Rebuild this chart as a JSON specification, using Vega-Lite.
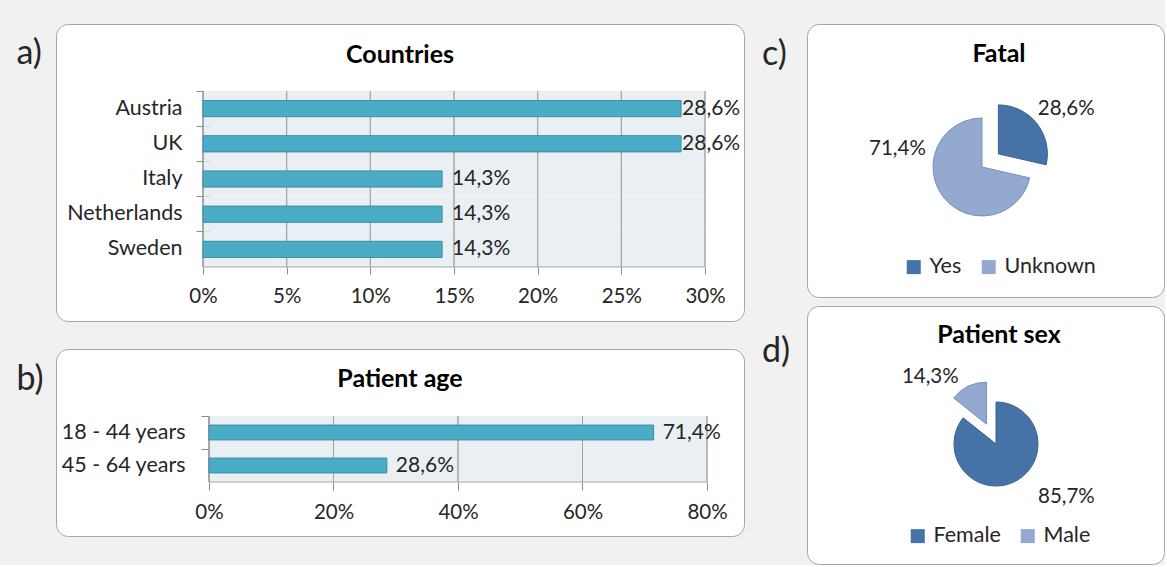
{
"$schema": "https://vega.github.io/schema/vega-lite/v6.json",
"background": "#f1f1f1",
"padding": {"left": 15, "top": 23, "right": 0, "bottom": 0},
"spacing": 16,
"resolve": {"scale": {"color": "independent", "stroke": "independent"}, "legend": {"color": "independent", "stroke": "independent"}},
"config": {
  "font": "Lato",
  "view": {"fill": "white", "stroke": "#a6a6a6", "strokeWidth": 1, "cornerRadius": 12},
  "style": {"view": {"fill": "white", "stroke": "#a6a6a6", "strokeWidth": 1, "cornerRadius": 12}},
  "locale": {"number": {"decimal": ",", "thousands": ".", "grouping": [3], "currency": ["", " €"]}},
  "axis": {"labelFont": "Lato", "titleFont": "Lato", "labelColor": "#262626"},
  "legend": {"labelFont": "Lato", "titleFont": "Lato"},
  "title": {"font": "Lato"},
  "text": {"font": "Lato"}
},
"hconcat": [
 {"spacing": 26, "vconcat": [
  {
   "width": 688, "height": 297,
   "title": {"text": "Countries", "offset": -64, "baseline": "alphabetic", "fontSize": 25, "fontWeight": "bold", "color": "#000000", "anchor": "middle"},
   "data": {"values": [
     {"country": "Austria", "value": 0.2857},
     {"country": "UK", "value": 0.2857},
     {"country": "Italy", "value": 0.1429},
     {"country": "Netherlands", "value": 0.1429},
     {"country": "Sweden", "value": 0.1429}
   ]},
   "encoding": {"y": {"field": "country", "type": "nominal",
      "scale": {"domain": ["Austria", "UK", "Italy", "Netherlands", "Sweden"], "paddingInner": 0, "paddingOuter": 0, "range": [67, 243]},
      "axis": {"title": "a)", "titleAngle": 0, "titleAlign": "left", "titleBaseline": "alphabetic", "titleX": -194, "titleY": 39, "titleFontSize": 34, "titleFontWeight": "normal", "titleColor": "#262626",
               "domain": false, "grid": false, "ticks": true, "tickSize": 14, "tickColor": "#8c8c8c", "bandPosition": 0, "offset": -154, "labelPadding": 14, "labelFontSize": 21.5, "labelColor": "#262626"}}},
   "layer": [
    {"mark": {"type": "bar", "color": "#e9eff3", "height": {"band": 1}},
     "encoding": {"x": {"datum": 0, "type": "quantitative", "scale": {"domain": [-0.08785, 0.32331], "nice": false, "zero": false}}, "x2": {"datum": 0.3}}},
    {"mark": {"type": "bar", "fill": "transparent", "stroke": "#a6a6a6", "strokeWidth": 1, "height": {"band": 1}},
     "encoding": {"x": {"datum": 0.05, "type": "quantitative", "scale": {"domain": [-0.08785, 0.32331], "nice": false, "zero": false}}, "x2": {"datum": 0.05}}},
    {"mark": {"type": "bar", "fill": "transparent", "stroke": "#a6a6a6", "strokeWidth": 1, "height": {"band": 1}},
     "encoding": {"x": {"datum": 0.1, "type": "quantitative", "scale": {"domain": [-0.08785, 0.32331], "nice": false, "zero": false}}, "x2": {"datum": 0.1}}},
    {"mark": {"type": "bar", "fill": "transparent", "stroke": "#a6a6a6", "strokeWidth": 1, "height": {"band": 1}},
     "encoding": {"x": {"datum": 0.15, "type": "quantitative", "scale": {"domain": [-0.08785, 0.32331], "nice": false, "zero": false}}, "x2": {"datum": 0.15}}},
    {"mark": {"type": "bar", "fill": "transparent", "stroke": "#a6a6a6", "strokeWidth": 1, "height": {"band": 1}},
     "encoding": {"x": {"datum": 0.2, "type": "quantitative", "scale": {"domain": [-0.08785, 0.32331], "nice": false, "zero": false}}, "x2": {"datum": 0.2}}},
    {"mark": {"type": "bar", "fill": "transparent", "stroke": "#a6a6a6", "strokeWidth": 1, "height": {"band": 1}},
     "encoding": {"x": {"datum": 0.25, "type": "quantitative", "scale": {"domain": [-0.08785, 0.32331], "nice": false, "zero": false}}, "x2": {"datum": 0.25}}},
    {"mark": {"type": "bar", "fill": "transparent", "stroke": "#a6a6a6", "strokeWidth": 1, "height": {"band": 1}},
     "encoding": {"x": {"datum": 0.3, "type": "quantitative", "scale": {"domain": [-0.08785, 0.32331], "nice": false, "zero": false}}, "x2": {"datum": 0.3}}},
    {"mark": {"type": "bar", "fill": "transparent", "stroke": "#8c8c8c", "strokeWidth": 1, "height": {"band": 1}},
     "encoding": {"x": {"datum": 0, "type": "quantitative", "scale": {"domain": [-0.08785, 0.32331], "nice": false, "zero": false}}, "x2": {"datum": 0}}},
    {"transform": [{"filter": "datum.country == 'Sweden'"}],
     "mark": {"type": "rule", "color": "#a6a6a6", "strokeWidth": 1},
     "encoding": {"x": {"datum": 0, "type": "quantitative", "scale": {"domain": [-0.08785, 0.32331], "nice": false, "zero": false}}, "x2": {"datum": 0.3},
                  "y": {"field": "country", "type": "nominal", "bandPosition": 1, "scale": {"domain": ["Austria", "UK", "Italy", "Netherlands", "Sweden"], "paddingInner": 0, "paddingOuter": 0, "range": [67, 243]}}}},
    {"mark": {"type": "bar", "fill": "#4bacc6", "stroke": "#3a8ea5", "strokeWidth": 1, "height": {"band": 0.46}},
     "encoding": {"x": {"field": "value", "type": "quantitative", "scale": {"domain": [-0.08785, 0.32331], "nice": false, "zero": false},
        "axis": {"values": [0, 0.05, 0.1, 0.15, 0.2, 0.25, 0.3], "format": ".0%", "domain": false, "grid": false, "tickSize": 7, "tickColor": "#8c8c8c", "offset": -54, "title": null, "labelFontSize": 20.5, "labelPadding": 12, "labelFlush": false, "labelColor": "#262626"}}}},
    {"transform": [{"filter": "datum.value > 0.2"}],
     "mark": {"type": "text", "align": "left", "baseline": "middle", "dx": 1, "fontSize": 21, "color": "#262626"},
     "encoding": {"x": {"field": "value", "type": "quantitative", "scale": {"domain": [-0.08785, 0.32331], "nice": false, "zero": false}},
                  "text": {"field": "value", "type": "quantitative", "format": ".1%"}}},
    {"transform": [{"filter": "datum.value <= 0.2"}],
     "mark": {"type": "text", "align": "left", "baseline": "middle", "dx": 10, "fontSize": 21, "color": "#262626"},
     "encoding": {"x": {"field": "value", "type": "quantitative", "scale": {"domain": [-0.08785, 0.32331], "nice": false, "zero": false}},
                  "text": {"field": "value", "type": "quantitative", "format": ".1%"}}}
   ]
  },
  {
   "width": 688, "height": 187,
   "title": {"text": "Patient age", "offset": -63, "baseline": "alphabetic", "fontSize": 25, "fontWeight": "bold", "color": "#000000", "anchor": "middle"},
   "data": {"values": [
     {"age": "18 - 44 years", "value": 0.7143},
     {"age": "45 - 64 years", "value": 0.2857}
   ]},
   "encoding": {"y": {"field": "age", "type": "nominal",
      "scale": {"domain": ["18 - 44 years", "45 - 64 years"], "paddingInner": 0, "paddingOuter": 0, "range": [67, 133]},
      "axis": {"title": "b)", "titleAngle": 0, "titleAlign": "left", "titleBaseline": "alphabetic", "titleX": -200, "titleY": 40, "titleFontSize": 34, "titleFontWeight": "normal", "titleColor": "#262626",
               "domain": false, "grid": false, "ticks": true, "tickSize": 15, "tickColor": "#8c8c8c", "bandPosition": 0, "offset": -160, "labelPadding": 16, "labelFontSize": 21.5, "labelColor": "#262626"}}},
   "layer": [
    {"mark": {"type": "bar", "color": "#e9eff3", "height": {"band": 1}},
     "encoding": {"x": {"datum": 0, "type": "quantitative", "scale": {"domain": [-0.24578, 0.85944], "nice": false, "zero": false}}, "x2": {"datum": 0.8}}},
    {"mark": {"type": "bar", "fill": "transparent", "stroke": "#a6a6a6", "strokeWidth": 1, "height": {"band": 1}},
     "encoding": {"x": {"datum": 0.2, "type": "quantitative", "scale": {"domain": [-0.24578, 0.85944], "nice": false, "zero": false}}, "x2": {"datum": 0.2}}},
    {"mark": {"type": "bar", "fill": "transparent", "stroke": "#a6a6a6", "strokeWidth": 1, "height": {"band": 1}},
     "encoding": {"x": {"datum": 0.4, "type": "quantitative", "scale": {"domain": [-0.24578, 0.85944], "nice": false, "zero": false}}, "x2": {"datum": 0.4}}},
    {"mark": {"type": "bar", "fill": "transparent", "stroke": "#a6a6a6", "strokeWidth": 1, "height": {"band": 1}},
     "encoding": {"x": {"datum": 0.6, "type": "quantitative", "scale": {"domain": [-0.24578, 0.85944], "nice": false, "zero": false}}, "x2": {"datum": 0.6}}},
    {"mark": {"type": "bar", "fill": "transparent", "stroke": "#a6a6a6", "strokeWidth": 1, "height": {"band": 1}},
     "encoding": {"x": {"datum": 0.8, "type": "quantitative", "scale": {"domain": [-0.24578, 0.85944], "nice": false, "zero": false}}, "x2": {"datum": 0.8}}},
    {"mark": {"type": "bar", "fill": "transparent", "stroke": "#8c8c8c", "strokeWidth": 1, "height": {"band": 1}},
     "encoding": {"x": {"datum": 0, "type": "quantitative", "scale": {"domain": [-0.24578, 0.85944], "nice": false, "zero": false}}, "x2": {"datum": 0}}},
    {"transform": [{"filter": "datum.age == '45 - 64 years'"}],
     "mark": {"type": "rule", "color": "#a6a6a6", "strokeWidth": 1},
     "encoding": {"x": {"datum": 0, "type": "quantitative", "scale": {"domain": [-0.24578, 0.85944], "nice": false, "zero": false}}, "x2": {"datum": 0.8},
                  "y": {"field": "age", "type": "nominal", "bandPosition": 1, "scale": {"domain": ["18 - 44 years", "45 - 64 years"], "paddingInner": 0, "paddingOuter": 0, "range": [67, 133]}}}},
    {"mark": {"type": "bar", "fill": "#4bacc6", "stroke": "#3a8ea5", "strokeWidth": 1, "height": {"band": 0.45}},
     "encoding": {"x": {"field": "value", "type": "quantitative", "scale": {"domain": [-0.24578, 0.85944], "nice": false, "zero": false},
        "axis": {"values": [0, 0.2, 0.4, 0.6, 0.8], "format": ".0%", "domain": false, "grid": false, "tickSize": 8, "tickColor": "#8c8c8c", "offset": -54, "title": null, "labelFontSize": 20.5, "labelPadding": 12, "labelFlush": false, "labelColor": "#262626"}}}},
    {"mark": {"type": "text", "align": "left", "baseline": "middle", "dx": 9, "fontSize": 21, "color": "#262626"},
     "encoding": {"x": {"field": "value", "type": "quantitative", "scale": {"domain": [-0.24578, 0.85944], "nice": false, "zero": false}},
                  "text": {"field": "value", "type": "quantitative", "format": ".1%"}}}
   ]
  }
 ]},
 {"spacing": 7,
  "resolve": {"scale": {"color": "independent", "stroke": "independent"}, "legend": {"color": "independent", "stroke": "independent"}},
  "vconcat": [
  {
   "width": 357, "height": 273,
   "title": {"text": "c)", "anchor": "start", "dx": -45, "offset": -75, "baseline": "alphabetic", "fontSize": 34, "fontWeight": "normal", "color": "#262626"},
   "data": {"values": [
     {"cat": "Yes", "value": 0.2857},
     {"cat": "Unknown", "value": 0.7143}
   ]},
   "encoding": {
     "theta": {"field": "value", "type": "quantitative", "stack": true},
     "order": {"field": "cat", "type": "nominal", "sort": "descending"},
     "detail": {"field": "cat", "type": "nominal"}
   },
   "layer": [
    {"mark": {"type": "arc", "radius": 49, "xOffset": -3.5, "yOffset": 6.5, "strokeWidth": 1},
     "encoding": {
       "color": {"field": "cat", "type": "nominal", "scale": {"domain": ["Yes", "Unknown"], "range": ["#4572a7", "#93a9cf"]},
         "legend": {"orient": "none", "legendX": 96, "legendY": 18, "direction": "horizontal", "title": "Fatal", "titleFontSize": 25, "titleFontWeight": "bold", "titleColor": "#000000", "titleAnchor": "middle", "titlePadding": 189, "symbolType": "square", "symbolSize": 196, "symbolStrokeWidth": 0, "labelFontSize": 21.5, "labelColor": "#262626", "labelOffset": 5, "columnPadding": 16}},
       "stroke": {"field": "cat", "type": "nominal", "scale": {"domain": ["Yes", "Unknown"], "range": ["#3a6190", "#7391c2"]}, "legend": null},
       "opacity": {"condition": {"test": "datum.cat == 'Yes'", "value": 0}, "value": 1}
     }},
    {"mark": {"type": "arc", "radius": 49, "xOffset": 12.9, "yOffset": -6.6, "strokeWidth": 1},
     "encoding": {
       "color": {"field": "cat", "type": "nominal", "scale": {"domain": ["Yes", "Unknown"], "range": ["#4572a7", "#93a9cf"]},
         "legend": {"orient": "none", "legendX": 96, "legendY": 18, "direction": "horizontal", "title": "Fatal", "titleFontSize": 25, "titleFontWeight": "bold", "titleColor": "#000000", "titleAnchor": "middle", "titlePadding": 189, "symbolType": "square", "symbolSize": 196, "symbolStrokeWidth": 0, "labelFontSize": 21.5, "labelColor": "#262626", "labelOffset": 5, "columnPadding": 16}},
       "stroke": {"field": "cat", "type": "nominal", "scale": {"domain": ["Yes", "Unknown"], "range": ["#3a6190", "#7391c2"]}, "legend": null},
       "opacity": {"condition": {"test": "datum.cat == 'Yes'", "value": 1}, "value": 0}
     }},
    {"mark": {"type": "text", "radius": 100, "xOffset": -3.5, "yOffset": 6.5, "dx": 6, "dy": 4, "fontSize": 20.5, "color": "#262626", "align": "center", "baseline": "middle"},
     "encoding": {"text": {"condition": {"test": "datum.cat == 'Yes'", "field": "value", "type": "quantitative", "format": ".1%"}, "value": ""}}},
    {"mark": {"type": "text", "radius": 80, "xOffset": -3.5, "yOffset": 6.5, "dx": -22, "dy": -68, "fontSize": 20.5, "color": "#262626", "align": "center", "baseline": "middle"},
     "encoding": {"text": {"condition": {"test": "datum.cat == 'Unknown'", "field": "value", "type": "quantitative", "format": ".1%"}, "value": ""}}}
   ]
  },
  {
   "width": 357, "height": 258,
   "title": {"text": "d)", "anchor": "start", "dx": -45, "offset": -90, "baseline": "alphabetic", "fontSize": 34, "fontWeight": "normal", "color": "#262626"},
   "data": {"values": [
     {"cat": "Female", "value": 0.8571},
     {"cat": "Male", "value": 0.1429}
   ]},
   "encoding": {
     "theta": {"field": "value", "type": "quantitative", "stack": true},
     "order": {"field": "cat", "type": "nominal", "sort": "ascending"},
     "detail": {"field": "cat", "type": "nominal"}
   },
   "layer": [
    {"mark": {"type": "arc", "radius": 42, "xOffset": 10.5, "yOffset": 9, "strokeWidth": 1},
     "encoding": {
       "color": {"field": "cat", "type": "nominal", "scale": {"domain": ["Female", "Male"], "range": ["#4572a7", "#93a9cf"]},
         "legend": {"orient": "none", "legendX": 100, "legendY": 17, "direction": "horizontal", "title": "Patient sex", "titleFontSize": 25, "titleFontWeight": "bold", "titleColor": "#000000", "titleAnchor": "middle", "titlePadding": 177, "symbolType": "square", "symbolSize": 196, "symbolStrokeWidth": 0, "labelFontSize": 21.5, "labelColor": "#262626", "labelOffset": 5, "columnPadding": 16}},
       "stroke": {"field": "cat", "type": "nominal", "scale": {"domain": ["Female", "Male"], "range": ["#3a6190", "#7391c2"]}, "legend": null},
       "opacity": {"condition": {"test": "datum.cat == 'Male'", "value": 0}, "value": 1}
     }},
    {"mark": {"type": "arc", "radius": 42, "xOffset": 1, "yOffset": -10.8, "strokeWidth": 1},
     "encoding": {
       "color": {"field": "cat", "type": "nominal", "scale": {"domain": ["Female", "Male"], "range": ["#4572a7", "#93a9cf"]},
         "legend": {"orient": "none", "legendX": 100, "legendY": 17, "direction": "horizontal", "title": "Patient sex", "titleFontSize": 25, "titleFontWeight": "bold", "titleColor": "#000000", "titleAnchor": "middle", "titlePadding": 177, "symbolType": "square", "symbolSize": 196, "symbolStrokeWidth": 0, "labelFontSize": 21.5, "labelColor": "#262626", "labelOffset": 5, "columnPadding": 16}},
       "stroke": {"field": "cat", "type": "nominal", "scale": {"domain": ["Female", "Male"], "range": ["#3a6190", "#7391c2"]}, "legend": null},
       "opacity": {"condition": {"test": "datum.cat == 'Male'", "value": 1}, "value": 0}
     }},
    {"mark": {"type": "text", "radius": 80, "xOffset": 10.5, "yOffset": 9, "dx": -31, "dy": 5, "fontSize": 20.5, "color": "#262626", "align": "center", "baseline": "middle"},
     "encoding": {"text": {"condition": {"test": "datum.cat == 'Male'", "field": "value", "type": "quantitative", "format": ".1%"}, "value": ""}}},
    {"mark": {"type": "text", "radius": 70, "xOffset": 10.5, "yOffset": 9, "dx": 40, "dy": -10, "fontSize": 20.5, "color": "#262626", "align": "center", "baseline": "middle"},
     "encoding": {"text": {"condition": {"test": "datum.cat == 'Female'", "field": "value", "type": "quantitative", "format": ".1%"}, "value": ""}}}
   ]
  }
 ]}
]
}
